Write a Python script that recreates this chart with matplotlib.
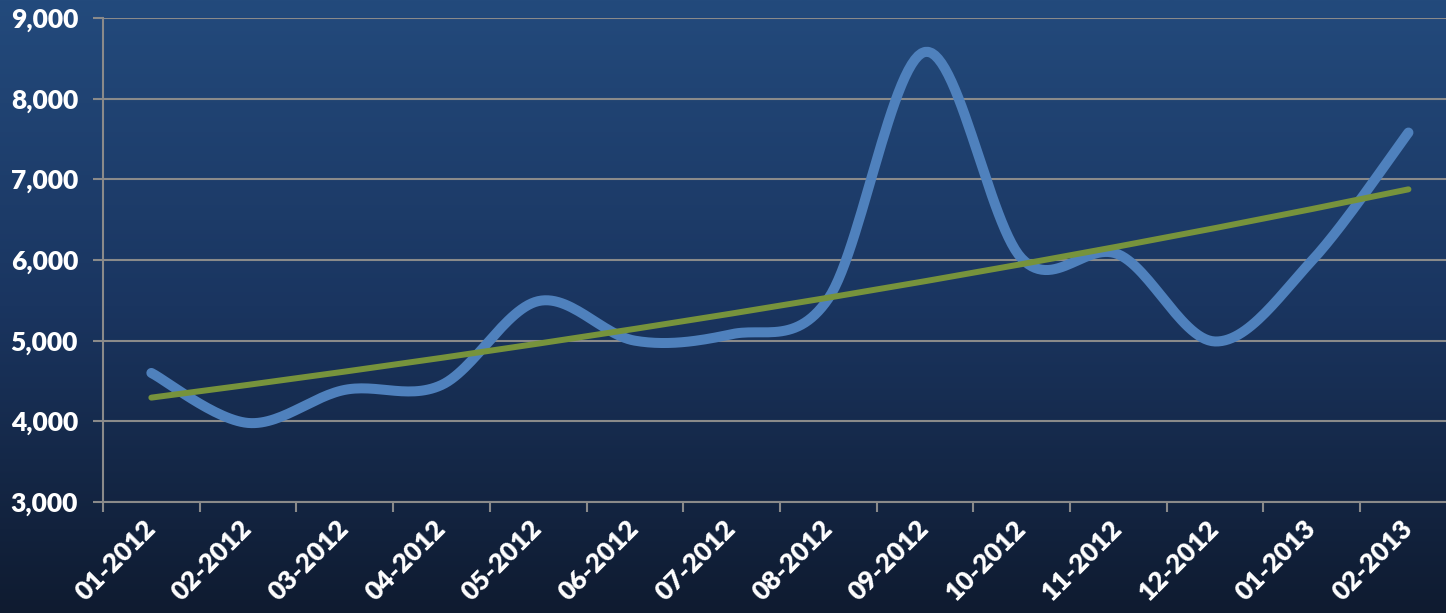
import numpy as np
import matplotlib
matplotlib.use("Agg")
import matplotlib.pyplot as plt
from matplotlib.colors import LinearSegmentedColormap

# monthly values
months = ["01-2012", "02-2012", "03-2012", "04-2012", "05-2012", "06-2012", "07-2012",
          "08-2012", "09-2012", "10-2012", "11-2012", "12-2012", "01-2013", "02-2013"]
values = [4600, 3980, 4390, 4450, 5490, 5000, 5080,
          5520, 8580, 6020, 6070, 4990, 5990, 7580]
yticks = [3000, 4000, 5000, 6000, 7000, 8000, 9000]

def smooth(x, y, n=30):  # excel style smoothed line (catmull-rom bezier)
    x = np.asarray(x, float)
    y = np.asarray(y, float)
    px = np.concatenate([[x[0]], x, [x[-1]]])
    py = np.concatenate([[y[0]], y, [y[-1]]])
    xs, ys = [], []
    t = np.linspace(0, 1, n)
    for i in range(1, len(x)):
        p0 = np.array([px[i], py[i]])
        p3 = np.array([px[i+1], py[i+1]])
        c1 = p0 + (np.array([px[i+1], py[i+1]]) - np.array([px[i-1], py[i-1]])) / 6
        c2 = p3 - (np.array([px[i+2], py[i+2]]) - np.array([px[i], py[i]])) / 6
        pts = ((1-t)**3)[:, None]*p0 + (3*(1-t)**2*t)[:, None]*c1 + (3*(1-t)*t**2)[:, None]*c2 + (t**3)[:, None]*p3
        xs.extend(pts[:, 0]); ys.extend(pts[:, 1])
    return np.array(xs), np.array(ys)

x = np.arange(len(months))
# exponential trendline fitted to the data
b, a = np.polyfit(x, np.log(values), 1)
trend = np.exp(a + b*x)

W, H = 1446, 613
fig = plt.figure(figsize=(W/100, H/100), dpi=100)

# gradient background
bg = fig.add_axes([0, 0, 1, 1])
cmap = LinearSegmentedColormap.from_list("bg", ["#234a7c", "#1a3560", "#0f1b30"])
bg.imshow(np.linspace(0, 1, 256)[:, None], aspect="auto", cmap=cmap, extent=[0, 1, 0, 1])
bg.axis("off")

left, bottom, top = 103, 502, 18
step = 96.7
ax = fig.add_axes([left/W, (H-bottom)/H, 14*step/W, (bottom-top)/H])
ax.set_facecolor("none")
ax.set_xlim(-0.5, len(months)-0.5)
ax.set_ylim(3000, 9000)

ax.set_yticks(yticks)
ax.set_yticklabels([f"{v:,}" for v in yticks])
ax.grid(axis="y", color="#8a8a8a", lw=1.5)
ax.set_axisbelow(True)

sx, sy = smooth(x, values)
ax.plot(sx, sy, color="#4f81bd", lw=7.2, solid_capstyle="round", zorder=3)
ax.plot(x, trend, color="#77933c", lw=4.3, solid_capstyle="round", zorder=4)

for s in ["top", "right"]:
    ax.spines[s].set_visible(False)
for s in ["left", "bottom"]:
    ax.spines[s].set_color("#8a8a8a")
    ax.spines[s].set_linewidth(1.5)

ax.set_xticks(x)
ax.set_xticklabels(months)
ax.set_xticks(np.arange(-0.5, len(months)), minor=True)
ax.tick_params(axis="x", which="major", length=0, pad=16)
ax.tick_params(axis="x", which="minor", length=7, width=1.5, color="#8a8a8a")
ax.tick_params(axis="y", length=7, width=1.5, color="#8a8a8a", pad=11)

for lab in ax.get_xticklabels():
    lab.set_rotation(45)
    lab.set_ha("right")
    lab.set_va("center")
    lab.set_rotation_mode("anchor")
for lab in ax.get_xticklabels() + ax.get_yticklabels():
    lab.set_fontfamily("Lato")
    lab.set_fontweight("heavy")
    lab.set_fontsize(19)
    lab.set_color("white")

fig.savefig("out.png", dpi=100)
